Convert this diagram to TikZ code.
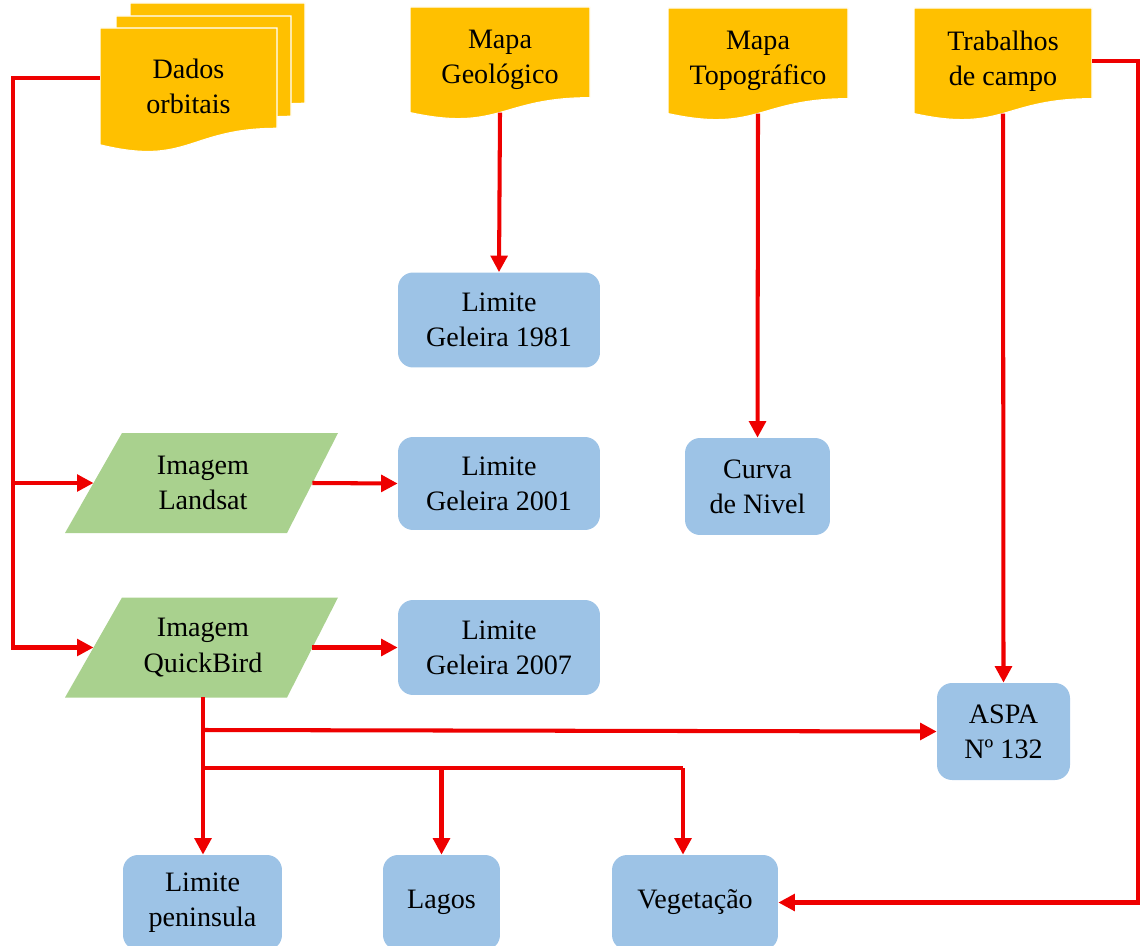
\documentclass[tikz,border=0pt]{standalone}
\usepackage{fontspec}
\setmainfont{Liberation Serif}
\usepackage{tikz}
\usetikzlibrary{arrows.meta}

\definecolor{docgold}{HTML}{FFC000}
\definecolor{boxblue}{HTML}{9DC3E6}
\definecolor{imggreen}{HTML}{A9D18E}
\definecolor{linered}{HTML}{EE0000}

\tikzset{
  docbody/.style={fill=docgold, draw=white, line width=0.6pt},
  docnode/.style={align=center, inner sep=0pt, anchor=north},
  box/.style={rounded corners=0.3cm, fill=boxblue, align=center, inner sep=0pt},
  imgnode/.style={align=center, inner sep=0pt, outer sep=0pt, minimum width=4.38cm, minimum height=2cm},
  link/.style={draw=linered, line width=2.3pt},
  arrow/.style={link, -{Triangle[length=3.3mm,width=3.3mm]}}
}

% document symbol: left, top, width, height
\newcommand{\docpath}[4]{\filldraw[docbody] (#1,#2) -- ({#1+#3},#2) -- ({#1+#3},{#2+0.802*#4})
  .. controls ({#1+0.5*#3},{#2+0.802*#4}) and ({#1+0.5*#3},{#2+1.1075*#4}) .. (#1,{#2+0.934*#4}) -- cycle;}
% image parallelogram round a centre
\newcommand{\imgpath}[2]{\fill[imggreen] ({#1-81},{#2-50}) -- ({#1+135},{#2-50}) -- ({#1+84},{#2+50}) -- ({#1-138},{#2+50}) -- cycle;}

\begin{document}
\begin{tikzpicture}[x=0.02cm, y=-0.02cm, font=\fontsize{16}{20}\selectfont]
	\useasboundingbox (0,0) rectangle (1142,946);
		\docpath{130}{3}{175}{125}
		\docpath{116}{16}{175}{125}
		\docpath{100}{28}{177}{125}
		\docpath{410}{7}{180}{113}
		\docpath{668}{8}{180}{113}
		\docpath{914}{8}{178}{113}
		\imgpath{203}{483}
		\imgpath{203}{647.5}
		\node [docnode, minimum width=3.54cm, minimum height=2.32cm] (dados) at (188.5,28) {Dados\\orbitais};
		\node [docnode, minimum width=3.6cm, minimum height=2.1cm] (geo) at (500,7) {Mapa\\Geológico};
		\node [docnode, minimum width=3.6cm, minimum height=2.1cm] (topo) at (758,8) {Mapa\\Topográfico};
		\node [docnode, minimum width=3.56cm, minimum height=2.1cm] (campo) at (1003,8) {Trabalhos\\de campo};
		\node [box, minimum width=4.04cm, minimum height=1.9cm] (lim81) at (499,320) {Limite\\Geleira 1981};
		\node [box, minimum width=4.04cm, minimum height=1.86cm] (lim01) at (499,483.5) {Limite\\Geleira 2001};
		\node [box, minimum width=4.04cm, minimum height=1.9cm] (lim07) at (499,647.5) {Limite\\Geleira 2007};
		\node [box, minimum width=2.9cm, minimum height=1.94cm] (curva) at (757.5,486.5) {Curva\\de Nivel};
		\node [box, minimum width=2.66cm, minimum height=1.94cm] (aspa) at (1003.5,731.5) {ASPA\\Nº 132};
		\node [box, minimum width=3.18cm, minimum height=1.9cm] (penin) at (202.5,902.5) {Limite\\peninsula};
		\node [box, minimum width=2.34cm, minimum height=1.9cm] (lagos) at (441.5,902.5) {Lagos};
		\node [box, minimum width=3.32cm, minimum height=1.9cm] (veg) at (695,902.5) {Vegetação};
		\node [imgnode] (landsat) at (203,483) {Imagem\\Landsat};
		\node [imgnode] (quick) at (203,647.5) {Imagem\\QuickBird};
		\coordinate (ltop) at (13,78);
		\coordinate (rbot) at (1138,902.5);
		\coordinate (qa) at (203,730);
		\coordinate (qb) at (203,768);
		\coordinate (qc) at (683,768);
		\draw [arrow] (dados.west |- ltop) -- (ltop) |- (quick.west);
		\draw [arrow] (ltop |- landsat.west) -- (landsat.west);
		\draw [arrow] (landsat.east) -- (lim01.west);
		\draw [arrow] (quick.east) -- (lim07.west);
		\draw [arrow] (geo.south) -- (lim81.north);
		\draw [arrow] (topo.south) -- (curva.north);
		\draw [arrow] (campo.south) -- (aspa.north);
		\draw [arrow] (campo.east) -| (rbot) -- (veg.east);
		\draw [arrow] (quick.south) -- (penin.north -| qa);
		\draw [arrow] (qa) -- (aspa.west);
		\draw [link] (qb) -- (qc);
		\draw [arrow] (qc) -- (qc |- veg.north);
		\draw [arrow] (qb -| lagos.north) -- (lagos.north);
	\end{tikzpicture}
\end{document}
